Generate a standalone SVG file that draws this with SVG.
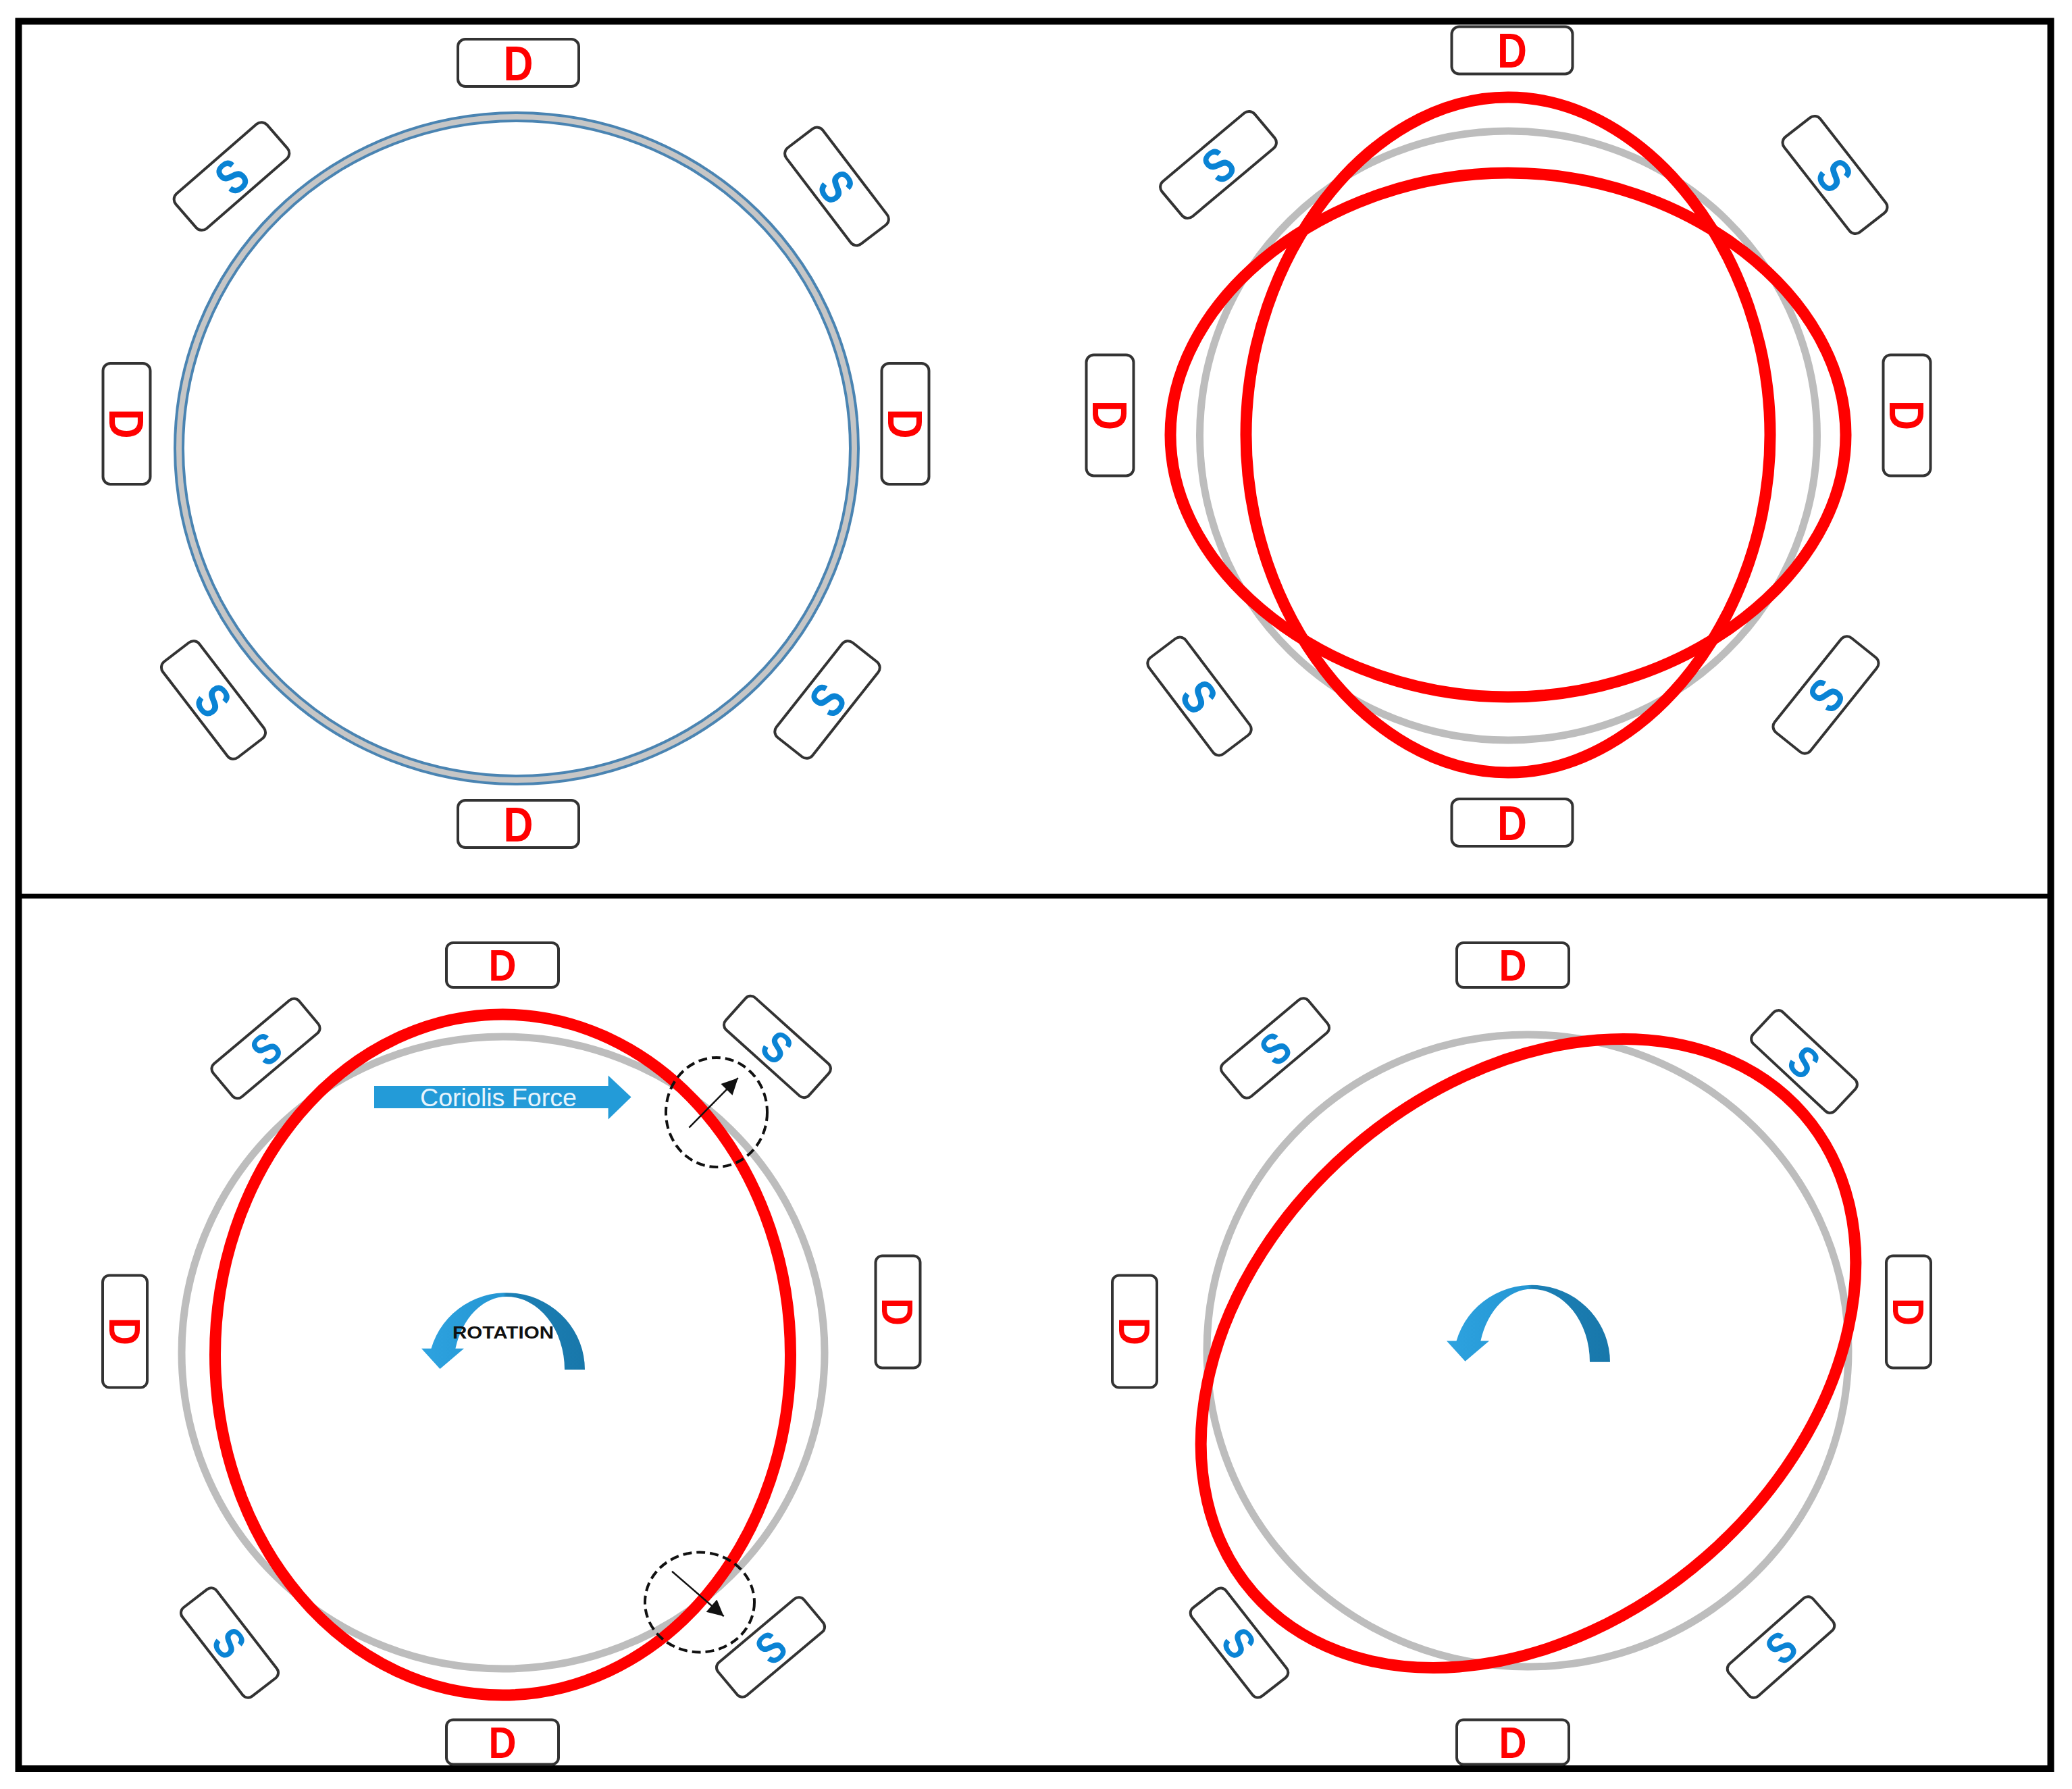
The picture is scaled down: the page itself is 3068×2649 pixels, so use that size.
<svg xmlns="http://www.w3.org/2000/svg" xmlns:xlink="http://www.w3.org/1999/xlink" width="3068" height="2649" viewBox="0 0 3068 2649">
<style>
.box{fill:#fff;stroke:#333;stroke-width:4}
.dl{fill:#ff0000;font-family:'Liberation Sans',Arial,sans-serif;font-weight:bold;text-anchor:middle}
.sl{fill:#0a83d4;font-family:'Liberation Sans',Arial,sans-serif;font-weight:bold;text-anchor:middle}
.big{font-size:72px}
.small{font-size:65px}
.gray{fill:none;stroke:#bdbdbd;stroke-width:11}
.red{fill:none;stroke:#ff0000;stroke-width:17;stroke-linejoin:round}
.dash{fill:none;stroke:#111;stroke-width:4;stroke-dasharray:13 7}
.arr{stroke:#111;stroke-width:2.5;fill:none}
</style>
<defs>
<marker id="ah" viewBox="0 0 10 10" refX="10" refY="5" markerWidth="26" markerHeight="24" markerUnits="userSpaceOnUse" orient="auto"><path d="M0,0 L10,5 L0,10 z" fill="#111"/></marker>
<linearGradient id="rotg" gradientUnits="userSpaceOnUse" x1="-130" y1="0" x2="120" y2="0">
<stop offset="0" stop-color="#2ea3e0"/><stop offset="0.5" stop-color="#2496d3"/><stop offset="0.52" stop-color="#1c80b6"/><stop offset="1" stop-color="#1877aa"/>
</linearGradient>
<path id="lemon" d="M0,-500 C205.6,-500 388,-265 388,0 C388,265 205.6,500 0,500 C-205.6,500 -388,265 -388,0 C-388,-265 -205.6,-500 0,-500 Z"/>
<path id="rotarrow" fill="url(#rotg)" d="M116,0 A116,114 0 0 0 -111.5,-31.3 L-126,-31.3 L-98.5,-1 L-63,-31.3 L-75.6,-31.3 A79,108 0 0 1 0,-108 A86,108 0 0 1 86,0 Z"/>
<g id="dbig"><rect class="box" x="-89.5" y="-35" width="179" height="70" rx="11"/><text class="dl big" x="0" y="25.8" textLength="44" lengthAdjust="spacingAndGlyphs">D</text></g>
<g id="sbig"><rect class="box" x="-89.5" y="-34" width="179" height="68" rx="11"/><text class="sl big" x="0" y="25.8" textLength="38" lengthAdjust="spacingAndGlyphs">S</text></g>
<g id="dsm"><rect class="box" x="-83" y="-33" width="166" height="66" rx="10"/><text class="dl small" x="0" y="23.3" textLength="41" lengthAdjust="spacingAndGlyphs">D</text></g>
<g id="ssm"><rect class="box" x="-83" y="-32" width="166" height="64" rx="10"/><text class="sl small" x="0" y="23.3" textLength="36" lengthAdjust="spacingAndGlyphs">S</text></g>
</defs>
<rect width="3068" height="2649" fill="#fff"/>

<g id="frame">
<rect x="27.5" y="31.5" width="3009" height="2587.5" fill="none" stroke="#000" stroke-width="10"/>
<line x1="27" y1="1327" x2="3036" y2="1327" stroke="#000" stroke-width="7"/>
</g>

<!-- Top-left panel -->
<g id="tl-ring">
<ellipse cx="765" cy="664" rx="500" ry="491" fill="none" stroke="#4a84b2" stroke-width="16"/>
<ellipse cx="765" cy="664" rx="500" ry="491" fill="none" stroke="#c6c6c6" stroke-width="8"/>
</g>
<g id="tl-d-top"><use xlink:href="#dbig" transform="translate(767.5,93)"/></g>
<g id="tl-d-bottom"><use xlink:href="#dbig" transform="translate(767.5,1220)"/></g>
<g id="tl-d-left"><use xlink:href="#dbig" transform="translate(187.5,627.5) rotate(90)"/></g>
<g id="tl-d-right"><use xlink:href="#dbig" transform="translate(1340.5,627.5) rotate(90)"/></g>
<g id="tl-s-tl"><use xlink:href="#sbig" transform="translate(343,261) rotate(-41)"/></g>
<g id="tl-s-tr"><use xlink:href="#sbig" transform="translate(1239,276) rotate(52.7)"/></g>
<g id="tl-s-bl"><use xlink:href="#sbig" transform="translate(316,1036.5) rotate(52.5)"/></g>
<g id="tl-s-br"><use xlink:href="#sbig" transform="translate(1225,1036) rotate(-51.7)"/></g>

<!-- Top-right panel -->
<g id="tr-ring">
<ellipse class="gray" cx="2233.5" cy="645" rx="457" ry="451" stroke-width="10"/>
<use xlink:href="#lemon" class="red" transform="translate(2233,644)"/>
<use xlink:href="#lemon" class="red" transform="translate(2233,644) rotate(90)"/>
</g>
<g id="tr-d-top"><use xlink:href="#dbig" transform="translate(2239,74.5)"/></g>
<g id="tr-d-bottom"><use xlink:href="#dbig" transform="translate(2239,1218)"/></g>
<g id="tr-d-left"><use xlink:href="#dbig" transform="translate(1643.5,615) rotate(90)"/></g>
<g id="tr-d-right"><use xlink:href="#dbig" transform="translate(2823.5,615) rotate(90)"/></g>
<g id="tr-s-tl"><use xlink:href="#sbig" transform="translate(1804,244) rotate(-40)"/></g>
<g id="tr-s-tr"><use xlink:href="#sbig" transform="translate(2717,259) rotate(52)"/></g>
<g id="tr-s-bl"><use xlink:href="#sbig" transform="translate(1776,1031) rotate(52.9)"/></g>
<g id="tr-s-br"><use xlink:href="#sbig" transform="translate(2703.5,1029) rotate(-51.3)"/></g>

<!-- Bottom-left panel -->
<g id="bl-ring">
<ellipse class="gray" cx="745" cy="2003" rx="476" ry="468"/>
<ellipse class="red" cx="744.5" cy="2006" rx="426" ry="504"/>
</g>
<g id="bl-d-top"><use xlink:href="#dsm" transform="translate(744,1429)"/></g>
<g id="bl-d-bottom"><use xlink:href="#dsm" transform="translate(744,2579.5)"/></g>
<g id="bl-d-left"><use xlink:href="#dsm" transform="translate(185,1971.5) rotate(90)"/></g>
<g id="bl-d-right"><use xlink:href="#dsm" transform="translate(1329.5,1942.5) rotate(90)"/></g>
<g id="bl-s-tl"><use xlink:href="#ssm" transform="translate(393.5,1552.5) rotate(-40)"/></g>
<g id="bl-s-tr"><use xlink:href="#ssm" transform="translate(1151,1550) rotate(42)"/></g>
<g id="bl-s-bl"><use xlink:href="#ssm" transform="translate(340,2432.5) rotate(52.3)"/></g>
<g id="bl-s-br"><use xlink:href="#ssm" transform="translate(1141,2439) rotate(-40)"/></g>
<g id="bl-coriolis">
<polygon points="554,1608 900.6,1608 900.6,1592.6 934.6,1624.5 900.6,1657.4 900.6,1641 554,1641" fill="#239bd8"/>
<text x="738" y="1638" font-family="'Liberation Sans',Arial,sans-serif" font-size="36" fill="#e8f4fc" text-anchor="middle" textLength="232" lengthAdjust="spacingAndGlyphs">Coriolis Force</text>
</g>
<g id="bl-rotation">
<use xlink:href="#rotarrow" transform="translate(750,2028)"/>
<text x="745" y="1982" font-family="'Liberation Sans',Arial,sans-serif" font-weight="bold" font-size="26" fill="#111" text-anchor="middle" textLength="150" lengthAdjust="spacingAndGlyphs">ROTATION</text>
</g>
<g id="bl-probe-upper"><ellipse class="dash" cx="1061" cy="1647" rx="75" ry="81"/></g>
<g id="bl-probe-lower"><ellipse class="dash" cx="1036" cy="2372.5" rx="81" ry="74"/></g>

<!-- Bottom-right panel -->
<g id="br-ring">
<ellipse class="gray" cx="2262" cy="2000" rx="475" ry="468"/>
<ellipse class="red" cx="2263" cy="2004" rx="540" ry="400" transform="rotate(-41 2263 2004)"/>
</g>
<g id="br-d-top"><use xlink:href="#dsm" transform="translate(2240,1429)"/></g>
<g id="br-d-bottom"><use xlink:href="#dsm" transform="translate(2240,2579.5)"/></g>
<g id="br-d-left"><use xlink:href="#dsm" transform="translate(1680,1971.5) rotate(90)"/></g>
<g id="br-d-right"><use xlink:href="#dsm" transform="translate(2826,1942.5) rotate(90)"/></g>
<g id="br-s-tl"><use xlink:href="#ssm" transform="translate(1888,1552) rotate(-40)"/></g>
<g id="br-s-tr"><use xlink:href="#ssm" transform="translate(2671.5,1572) rotate(43)"/></g>
<g id="br-s-bl"><use xlink:href="#ssm" transform="translate(1835,2432.5) rotate(52)"/></g>
<g id="br-s-br"><use xlink:href="#ssm" transform="translate(2637,2439) rotate(-41.5)"/></g>
<g id="br-rotation"><use xlink:href="#rotarrow" transform="translate(2268,2016.7)"/></g>

<g id="connectors">
<line class="arr" x1="1020.4" y1="1669.7" x2="1092.8" y2="1596.2" marker-end="url(#ah)"/>
<line class="arr" x1="995" y1="2326.7" x2="1071.7" y2="2393.3" marker-end="url(#ah)"/>
</g>
</svg>
